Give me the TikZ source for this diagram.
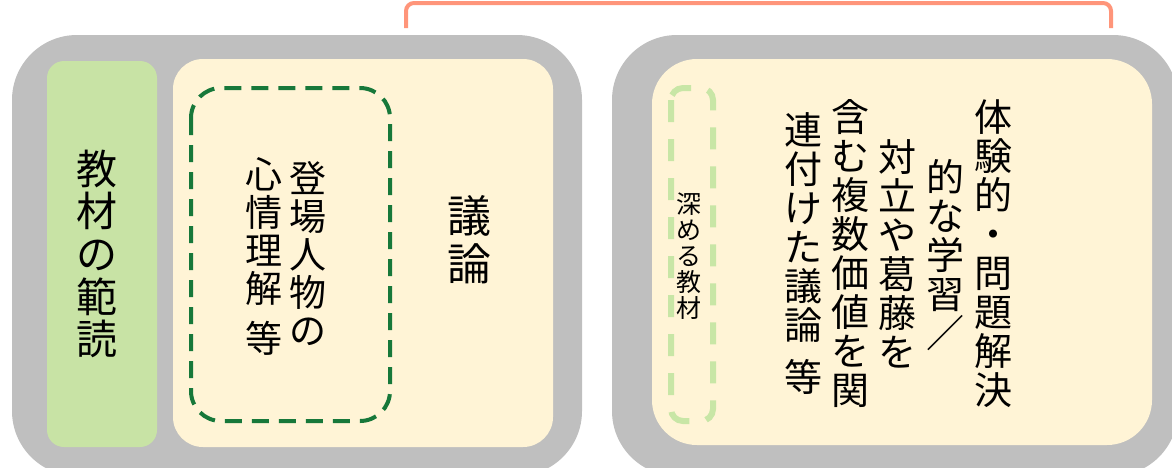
\documentclass[tikz,border=0pt]{standalone}
\usepackage{fontspec}
\setmainfont{Noto Sans CJK JP}
\definecolor{boxgray}{HTML}{BFBFBF}
\definecolor{lgreen}{HTML}{C8E3A5}
\definecolor{lyellow}{HTML}{FFF4D6}
\definecolor{dgreen}{HTML}{17783A}
\definecolor{dashlg}{HTML}{C8E6A6}
\definecolor{salmon}{HTML}{FF957A}
\tikzset{
  vtext/.style={align=center, inner sep=0pt, text=black},
  graybox/.style={fill=boxgray, rounded corners=65pt},
}
\begin{document}
\begin{tikzpicture}[x=1pt,y=-1pt]
\useasboundingbox (0,0) rectangle (1172,467);
% outer gray panels
\fill[graybox] (12,35) rectangle (582,476);
\fill[graybox] (612,35) rectangle (1178,476);
% left panel
\fill[lgreen, rounded corners=17pt] (47,61) rectangle (157,447);
\fill[lyellow, rounded corners=30pt] (173,59) rectangle (553,447);
\draw[dgreen, line width=4pt, dash pattern=on 17pt off 10pt, rounded corners=30pt] (191,88) rectangle (390,421);
% right panel
\fill[lyellow, rounded corners=45pt] (652,59) rectangle (1152,445);
\draw[dashlg, line width=6pt, dash pattern=on 22pt off 17pt, rounded corners=12pt] (671,88) rectangle (713,421);
% salmon bracket
\coordinate (bl) at (406,28);
\coordinate (br) at (1111,28);
\draw[salmon, line width=4pt, rounded corners=8pt] (bl) -- (406,3) -- (1111,3) -- (br);
% texts left
\node[vtext, font=\fontsize{41}{42.7}\selectfont] (hando) at (97,254) {教\\材\\の\\範\\読};
\node[vtext, font=\fontsize{37}{38}\selectfont] (tojo) at (308,254) {登\\場\\人\\物\\の};
\node[vtext, font=\fontsize{37}{38}\selectfont] (shinjo) at (264,256) {心\\情\\理\\解\\[12pt]等};
\node[vtext, font=\fontsize{44}{48}\selectfont] (giron) at (469,240) {議\\論};
% texts right
\node[vtext, font=\fontsize{25}{26}\selectfont] (fukameru) at (689,256) {深\\め\\る\\教\\材};
\node[vtext, font=\fontsize{38}{39}\selectfont] (c1) at (993,254) {体\\験\\的\\・\\問\\題\\解\\決};
\node[vtext, font=\fontsize{38}{39}\selectfont] (c2) at (945,255) {的\\な\\学\\習\\／};
\node[vtext, font=\fontsize{38}{39}\selectfont] (c3) at (897,254) {対\\立\\や\\葛\\藤\\を};
\node[vtext, font=\fontsize{38}{39}\selectfont] (c4) at (850,254) {含\\む\\複\\数\\価\\値\\を\\関};
\node[vtext, font=\fontsize{38}{39}\selectfont] (c5) at (803,254) {連\\付\\け\\た\\議\\論\\[13pt]等};
\end{tikzpicture}
\end{document}
